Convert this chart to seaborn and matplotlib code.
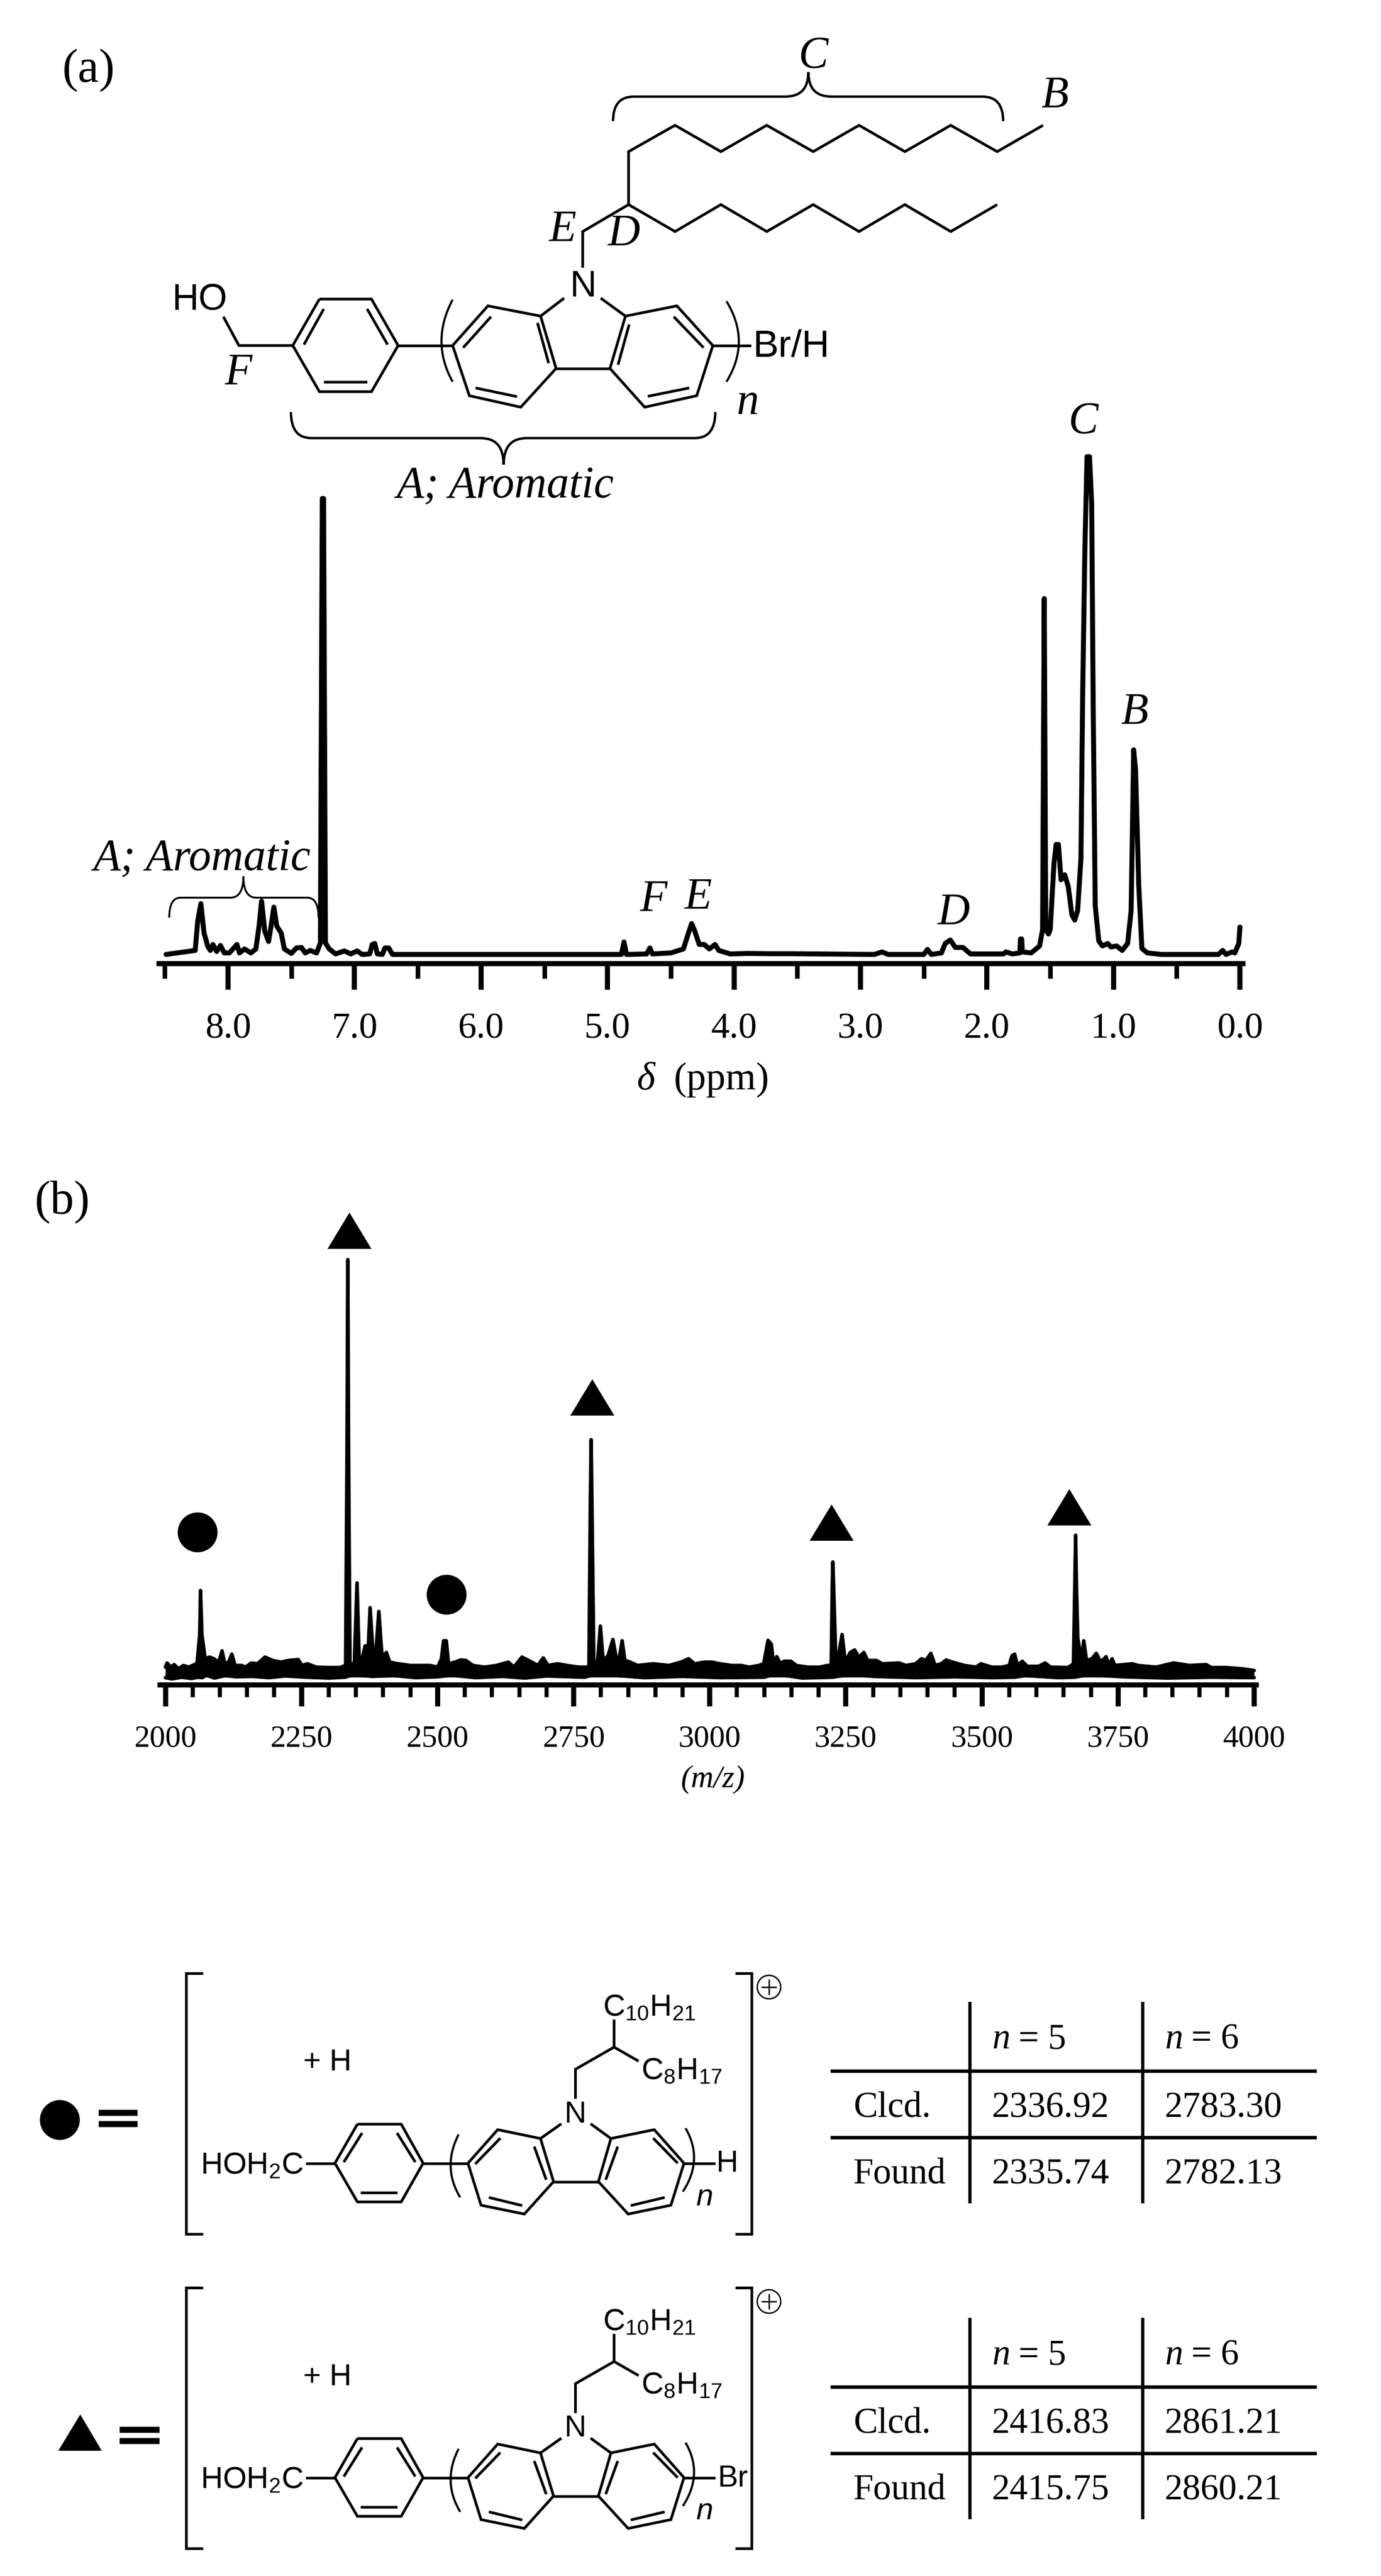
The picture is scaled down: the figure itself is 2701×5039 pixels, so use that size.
import matplotlib
matplotlib.use('Agg')
import matplotlib.pyplot as plt
import seaborn as sns
from matplotlib.path import Path
from matplotlib.patches import PathPatch, Circle
from matplotlib.ticker import MultipleLocator, FormatStrFormatter

sns.set_theme(style='white')
plt.rcParams['font.family'] = ['Liberation Serif', 'DejaVu Serif']
plt.rcParams['mathtext.fontset'] = 'custom'
plt.rcParams['mathtext.rm'] = 'Liberation Sans'
plt.rcParams['mathtext.it'] = 'Liberation Sans:italic'

W, H = 2701, 5039
SERIF = 'Liberation Serif'
SANS = 'Liberation Sans'

# ---- (a) 1H NMR spectrum
nmr_ppm = [8.49, 8.26, 8.24, 8.215, 8.19, 8.16, 8.14, 8.12, 8.09, 8.06, 8.03, 7.99, 7.93, 7.91, 7.87, 7.82,
           7.78, 7.755, 7.735, 7.71, 7.68, 7.66, 7.638, 7.615, 7.58, 7.555, 7.50, 7.46, 7.42, 7.39, 7.35, 7.30,
           7.27, 7.255, 7.245, 7.23, 7.20, 7.15, 7.08, 7.03, 6.98, 6.94, 6.88, 6.86, 6.84, 6.82, 6.78, 6.76,
           6.73, 6.70, 4.89, 4.87, 4.85, 4.69, 4.665, 4.645, 4.50, 4.40, 4.36, 4.335, 4.31, 4.275, 4.235, 4.195,
           4.15, 4.12, 4.03, 3.90, 3.70, 3.55, 2.89, 2.83, 2.78, 2.50, 2.47, 2.44, 2.36, 2.33, 2.29, 2.25,
           2.19, 2.13, 1.87, 1.85, 1.80, 1.74, 1.735, 1.725, 1.72, 1.65, 1.584, 1.56, 1.547, 1.535, 1.513, 1.50,
           1.47, 1.453, 1.435, 1.414, 1.385, 1.357, 1.328, 1.306, 1.283, 1.257, 1.243, 1.226, 1.209, 1.189, 1.172, 1.16,
           1.144, 1.116, 1.087, 1.045, 1.02, 0.974, 0.931, 0.888, 0.86, 0.84, 0.825, 0.80, 0.775, 0.732, 0.619, 0.17,
           0.136, 0.11, 0.062, 0.04, 0.009, 0.0]
nmr_int = [0, 0.8, 6.7, 10.2, 4.3, 1.6, 0.8, 2.0, 0.6, 1.8, 0.3, 0.3, 2.0, 0.3, 1.1, 0.3,
           1.1, 5.7, 10.7, 4.7, 2.6, 5.7, 9.5, 5.7, 4.3, 1.1, 0.2, 1.3, 1.4, 0.3, 0.8, 0.3,
           2.3, 91.6, 91.6, 2.3, 1.1, 0.1, 0.7, 0.1, 0.7, 0, 0.1, 2.0, 2.2, 0.1, 0, 1.3,
           1.3, 0, 0, 2.5, 0, 0.1, 1.3, 0.1, 0.3, 1.1, 4.3, 6.2, 4.7, 2.0, 2.0, 1.1,
           2.0, 0.8, 0.1, 0.2, 0.15, 0.15, 0, 0.5, 0, 0, 1.0, 0, 0.3, 2.2, 2.9, 1.4,
           1.4, 0.1, 0.1, 0.5, 0.1, 0.3, 3.1, 3.1, 0.5, 0.3, 1.7, 5.0, 71.5, 5.0, 4.1, 5.0,
           18.3, 22.1, 22.1, 15.0, 16.0, 13.6, 7.9, 6.9, 8.8, 19.3, 52.5, 81.0, 100, 100, 90.5, 50.0,
           9.8, 2.7, 1.7, 2.2, 1.5, 1.7, 0.8, 2.2, 8.8, 41.1, 37.0, 14.0, 1.2, 0.3, 0, 0,
           0.8, 0, 0.5, 0.3, 2.2, 5.5]

# ---- (b) MALDI-TOF spectrum: top and bottom of the noisy trace
ms_mz = [2000, 2003, 2010, 2016, 2024, 2033, 2043, 2053, 2058, 2063, 2064.5, 2067, 2073, 2081, 2089, 2098, 2104,
         2109, 2116, 2122, 2128, 2140, 2147, 2158, 2169, 2183, 2197, 2212, 2226, 2244, 2251, 2261, 2277,
         2298, 2320, 2331, 2333.5, 2335, 2336.5, 2339, 2347, 2352, 2356, 2362, 2367, 2372, 2376, 2381, 2386,
         2392, 2398, 2406, 2412, 2428, 2450, 2468, 2486, 2500, 2507, 2511, 2516, 2520, 2532, 2542, 2552,
         2565, 2586, 2608, 2630, 2640, 2655, 2673, 2684, 2694, 2703, 2720, 2738, 2759, 2778, 2780.5, 2782,
         2783.5, 2787, 2794, 2799, 2804, 2813, 2822, 2828, 2833, 2839, 2844, 2854, 2867, 2896, 2925, 2947,
         2961, 2972, 2990, 3004, 3019, 3040, 3058, 3072, 3090, 3099, 3107, 3113, 3117, 3123, 3130, 3136,
         3149, 3159, 3180, 3202, 3216, 3223, 3225, 3226, 3227.5, 3231, 3236, 3243, 3249, 3258, 3266, 3274, 3283, 3290,
         3306, 3317, 3348, 3360, 3378, 3389, 3397, 3406, 3414, 3425, 3434, 3446, 3468, 3489, 3498, 3518,
         3536, 3550, 3555, 3560, 3565, 3574, 3583, 3604, 3616, 3626, 3658, 3668, 3670.5, 3672, 3673.5, 3676,
         3682, 3687, 3692, 3702, 3710, 3718, 3728, 3733, 3739, 3744, 3776, 3787, 3820, 3839, 3852, 3881,
         3912, 3921, 3949, 3978, 4000]
ms_top = [2.7, 3.7, 2.7, 3.3, 2.3, 3.1, 2.7, 3.3, 3.5, 10.5, 21.0, 10.5, 4.7, 5.1, 4.7, 3.9, 6.6,
          3.5, 3.9, 5.8, 3.1, 3.1, 2.7, 3.7, 3.5, 5.1, 4.3, 3.9, 4.3, 4.5, 3.1, 3.5, 2.7,
          2.6, 2.6, 3.1, 53.0, 100, 53.0, 3.5, 3.5, 22.8, 4.3, 5.1, 7.8, 5.8, 16.9, 6.6, 5.1,
          16.0, 5.1, 6.2, 3.9, 3.5, 3.1, 3.1, 3.1, 2.7, 4.7, 9.0, 9.0, 3.5, 3.9, 4.4, 4.3,
          3.1, 2.7, 3.1, 3.9, 2.7, 5.1, 3.9, 3.1, 4.9, 3.1, 3.5, 3.1, 2.7, 2.7, 41.6, 57.0,
          41.6, 3.5, 4.3, 12.5, 4.3, 5.4, 9.3, 5.1, 4.3, 9.0, 4.3, 3.9, 3.1, 3.5, 3.1, 3.9,
          4.7, 3.5, 3.9, 3.9, 3.5, 3.1, 3.1, 2.7, 3.1, 3.5, 9.1, 8.2, 3.5, 5.2, 3.5, 4.1,
          4.1, 3.1, 2.7, 2.7, 3.1, 3.1, 22.0, 27.8, 22.0, 6.6, 5.1, 10.5, 3.9, 6.2, 6.8, 5.1, 6.2, 4.3,
          4.3, 3.5, 3.7, 3.1, 3.5, 4.7, 4.3, 6.0, 3.1, 3.5, 4.4, 3.9, 3.1, 2.7, 3.5, 2.7,
          2.7, 3.1, 5.4, 5.8, 3.1, 4.1, 2.9, 2.9, 3.7, 2.7, 2.6, 3.5, 22.0, 34.2, 22.0, 9.7,
          4.3, 9.0, 4.3, 4.7, 6.0, 3.9, 5.2, 3.1, 4.7, 3.1, 3.5, 3.1, 2.7, 3.3, 3.7, 3.1,
          3.3, 2.6, 2.6, 2.3, 1.9]
ms_low_mz = [2000, 2012, 2030, 2048, 2060, 2068, 2075, 2090, 2110, 2130, 2160, 2190, 2220, 2260, 2300, 2330,
             2345, 2380, 2420, 2460, 2500, 2525, 2570, 2620, 2660, 2700, 2770, 2795, 2830, 2880, 2950, 3020,
             3100, 3120, 3170, 3225, 3260, 3300, 3380, 3450, 3520, 3560, 3580, 3640, 3670, 3695, 3760, 3840,
             3920, 4000]
ms_low = [0.2, -0.1, 0.3, 0.0, 0.3, 0.2, 0.8, 0.1, 0.7, 0.4, 0.5, 0.2, 0.6, 0.3, 0.1, 0.3,
          0.9, 0.5, 0.7, 0.2, 0.4, 0.8, 0.2, 0.5, 0.1, 0.6, 0.3, 1.2, 0.7, 0.2, 0.5, 0.2,
          0.3, 1.1, 0.1, 0.3, 1.0, 0.5, 0.2, 0.4, 0.2, 0.3, 0.7, 0.2, 0.3, 0.9, 0.4, 0.1,
          0.3, 0.2]

# marker positions on the m/z axis
tri_mz = [2338, 2784, 3223, 3660]
tri_int = [107.0, 67.1, 37.2, 40.9]
dot_mz = [2059, 2516]
dot_int = [34.9, 20.0]

# ---- mass tables
table_rows = ['Clcd.', 'Found']
table_head = ['5', '6']
dot_table = [['2336.92', '2783.30'], ['2335.74', '2782.13']]
tri_table = [['2416.83', '2861.21'], ['2415.75', '2860.21']]

# ---- line drawings, in the units of the crop they were read from
top_lines = [
    [(767, 578), (767, 407), (842, 322), (916, 407), (990, 322), (1065, 407), (1139, 322), (1213, 407),
     (1287, 322), (1362, 407), (1436, 322)],
    [(693, 782), (693, 665), (767, 578), (842, 665), (916, 578), (990, 665), (1065, 578), (1139, 665),
     (1213, 578), (1287, 665), (1362, 578)],
    [(268, 883), (352, 883), (395, 1033), (352, 1182), (268, 1182), (225, 1033), (268, 883)],
    [(345, 915), (378, 1030)], [(275, 915), (243, 1030)], [(275, 1150), (345, 1150)],
    [(113, 940), (138, 1033), (225, 1033)], [(395, 1033), (483, 1033)],
    [(483, 1033), (540, 905), (625, 938), (650, 1107), (593, 1232), (510, 1195), (483, 1033)],
    [(500, 1040), (545, 940)], [(620, 960), (638, 1090)], [(520, 1170), (587, 1198)],
    [(903, 1033), (845, 905), (762, 938), (737, 1107), (793, 1232), (877, 1195), (903, 1033)],
    [(888, 1040), (840, 940)], [(768, 965), (750, 1095)], [(798, 1197), (865, 1170)],
    [(650, 1107), (737, 1107)], [(625, 938), (663, 880)], [(762, 938), (722, 880)],
    [(903, 1033), (965, 1033)],
]
top_parens = [[(483, 885), (447, 1020), (483, 1150)], [(925, 890), (965, 1020), (925, 1150)]]

unit_lines = [
    [(636, 354), (720, 354), (762, 460), (720, 565), (636, 565), (593, 460), (636, 354)],
    [(712, 378), (747, 457)], [(645, 378), (610, 457)], [(642, 540), (712, 540)],
    [(537, 460), (593, 460)], [(762, 460), (848, 460)],
    [(848, 460), (905, 369), (987, 393), (1012, 510), (956, 598), (873, 574), (848, 460)],
    [(862, 462), (910, 392)], [(975, 415), (998, 505)], [(888, 553), (952, 575)],
    [(1262, 460), (1205, 369), (1122, 393), (1098, 510), (1155, 598), (1237, 574), (1262, 460)],
    [(1250, 460), (1203, 392)], [(1135, 415), (1112, 505)], [(1160, 575), (1225, 553)],
    [(1012, 510), (1098, 510)], [(987, 393), (1027, 353)], [(1122, 393), (1083, 353)],
    [(1054, 285), (1054, 205), (1128, 145), (1128, 70)], [(1128, 145), (1175, 183)],
    [(1262, 460), (1322, 460)],
    [(340, -55), (308, -55), (308, 652), (340, 652)], [(1360, -55), (1392, -55), (1392, 652), (1360, 652)],
]
unit_parens = [[(830, 382), (798, 470), (833, 553)], [(1265, 365), (1300, 450), (1260, 537)]]

fig = plt.figure(figsize=(W / 100, H / 100), dpi=100, facecolor='white')


def axes_px(left, top, right, bottom):
    return fig.add_axes([left / W, 1 - bottom / H, (right - left) / W, (bottom - top) / H], facecolor='none')


# ---- (a) spectrum
ax_nmr = axes_px(311, 870, 2431, 1885)
sns.lineplot(x=nmr_ppm, y=nmr_int, ax=ax_nmr, color='black', linewidth=7, sort=False, estimator=None,
             solid_capstyle='round', solid_joinstyle='round')
ax_nmr.set_xlim(8.546, -0.024)
ax_nmr.set_ylim(-1.85, 102.4)
ax_nmr.xaxis.set_major_locator(MultipleLocator(1))
ax_nmr.xaxis.set_minor_locator(MultipleLocator(0.5))
ax_nmr.xaxis.set_major_formatter(FormatStrFormatter('%.1f'))
ax_nmr.tick_params(axis='x', which='major', bottom=True, length=36.7, width=7.2, pad=32, labelsize=52, color='black', labelcolor='black')
ax_nmr.tick_params(axis='x', which='minor', bottom=True, length=20.6, width=6.5, color='black')
ax_nmr.set_yticks([])

# ---- (b) spectrum
ax_ms = axes_px(313, 2300, 2457, 3296)
ax_ms.fill_between(ms_mz, [0.3] * len(ms_mz), ms_top, color='black', linewidth=0)
sns.lineplot(x=ms_mz, y=ms_top, ax=ax_ms, color='black', linewidth=5, sort=False, estimator=None,
             solid_capstyle='round', solid_joinstyle='round')
sns.lineplot(x=ms_low_mz, y=ms_low, ax=ax_ms, color='black', linewidth=5, sort=False, estimator=None,
             solid_capstyle='round', solid_joinstyle='round')
sns.scatterplot(x=tri_mz, y=tri_int, ax=ax_ms, marker=[(-43, -35.5), (43, -35.5), (0, 35.5)], s=3830,
                color='black', linewidth=0, clip_on=False)
sns.scatterplot(x=dot_mz, y=dot_int, ax=ax_ms, marker='o', s=3150, color='black', linewidth=0, clip_on=False)
ax_ms.set_xlim(1990.1, 4003.8)
ax_ms.set_ylim(-1.55, 120)
ax_ms.xaxis.set_major_locator(MultipleLocator(250))
ax_ms.xaxis.set_minor_locator(MultipleLocator(50))
ax_ms.tick_params(axis='x', which='major', bottom=True, length=30, width=7.2, pad=26, labelsize=44, color='black', labelcolor='black')
ax_ms.tick_params(axis='x', which='minor', bottom=True, length=17, width=5.8, color='black')
ax_ms.set_yticks([])

for ax in (ax_nmr, ax_ms):
    sns.despine(ax=ax, left=True, top=True, right=True)
    ax.spines['bottom'].set_linewidth(7.2)
    ax.spines['bottom'].set_color('black')
    ax.grid(False)

# ---- overlay in pixel coordinates for structures and labels
ov = fig.add_axes([0, 0, 1, 1], facecolor='none')
ov.set_xlim(0, W)
ov.set_ylim(H, 0)
ov.axis('off')


def label(x, y, s, size=63, style='italic', family=SERIF, ha='center', va='center'):
    ov.text(x, y, s, fontsize=size, style=style, family=family, ha=ha, va=va, color='black')


def draw_lines(lines, x0, y0, sx, sy, lw=3.8):
    for pts in lines:
        ov.plot([x0 + p[0] * sx for p in pts], [y0 + p[1] * sy for p in pts], color='black', lw=lw,
                solid_capstyle='butt', solid_joinstyle='miter')


def draw_parens(parens, x0, y0, sx, sy, lw=3.0):
    for pts in parens:
        verts = [(x0 + p[0] * sx, y0 + p[1] * sy) for p in pts]
        ov.add_patch(PathPatch(Path(verts, [Path.MOVETO, Path.CURVE3, Path.CURVE3]), fill=False, lw=lw, ec='black'))


def brace(x0, xm, x1, y_end, y_bar, y_tip, r=40, r2=45, lw=3.4):
    verts = [(x0, y_end), (x0, y_bar), (x0 + r, y_bar), (xm - r2, y_bar), (xm, y_bar), (xm, y_tip),
             (xm, y_bar), (xm + r2, y_bar), (x1 - r, y_bar), (x1, y_bar), (x1, y_end)]
    codes = [Path.MOVETO, Path.CURVE3, Path.CURVE3, Path.LINETO, Path.CURVE3, Path.CURVE3,
             Path.CURVE3, Path.CURVE3, Path.LINETO, Path.CURVE3, Path.CURVE3]
    ov.add_patch(PathPatch(Path(verts, codes), fill=False, lw=lw, ec='black'))


# panel letters
label(173, 138, '(a)', size=67, style='normal')
label(122, 2352, '(b)', size=67, style='normal')

# structure over spectrum (a)
draw_lines(top_lines, 300, 50, 1.2117, 0.6059)
draw_parens(top_parens, 300, 50, 1.2117, 0.6059)
brace(1199, 1581, 1962, 237, 189, 141)
brace(569, 985, 1399, 806, 857, 909)
label(1140, 561, 'N', size=52, style='normal', family=SANS)
label(390, 587, 'HO', size=52, style='normal', family=SANS)
label(1473, 678, 'Br/H', size=54, style='normal', family=SANS, ha='left')
label(1590, 110, 'C')
label(2063, 188, 'B')
label(1100, 450, 'E')
label(1221, 458, 'D')
label(466, 730, 'F')
label(1463, 788, 'n', family=SERIF)
label(988, 952, 'A; Aromatic')

# peak labels on spectrum (a)
label(2118, 825, 'C')
label(2219, 1394, 'B')
label(1866, 1786, 'D')
label(1278, 1760, 'F')
label(1365, 1756, 'E')
label(395, 1681, 'A; Aromatic')
brace(331, 476, 623, 1795, 1756, 1714, r=22, r2=25, lw=2.6)
label(1246, 2112, 'δ', size=55, ha='left')
label(1318, 2112, '(ppm)', size=55, style='normal', ha='left')
label(1395, 3481, '(m/z)', size=44)

# bottom structures, same drawing twice
for dy, end_text, end_x in ((0, 'H', 1422), (615, 'Br', 1433)):
    draw_lines(unit_lines, 50, 3900 + dy, 1.0204, 0.7207)
    draw_parens(unit_parens, 50, 3900 + dy, 1.0204, 0.7207)
    base = 3900 + dy
    label(1125, base + 236, 'N', size=43, style='normal', family=SANS)
    label(640, base + 135, '+ H', size=43, style='normal', family=SANS)
    label(392, base + 353, r'$\mathregular{HOH_2C}$', size=43, style='normal', family=SANS, ha='left', va='baseline')
    label(1179, base + 43, r'$\mathregular{C_{10}H_{21}}$', size=43, style='normal', family=SANS, ha='left', va='baseline')
    label(1254, base + 167, r'$\mathregular{C_8H_{17}}$', size=43, style='normal', family=SANS, ha='left', va='baseline')
    label(end_x, base + 333, end_text, size=43, style='normal', family=SANS, va='center')
    label(1379, base + 398, 'n', size=43, family=SANS)
    # charge sign
    cx, cy = 1504, base - 13
    ov.add_patch(Circle((cx, cy), 23, fill=False, lw=2, ec='black'))
    ov.plot([cx - 14, cx + 14], [cy, cy], color='black', lw=2)
    ov.plot([cx, cx], [cy - 14, cy + 14], color='black', lw=2)

# legend symbols with the big equals signs
ov.add_patch(Circle((117, 4147), 39, color='black', lw=0))
ov.fill([114, 199, 157], [4794, 4794, 4723], color='black', lw=0)
for x0, x1, ys in ((193, 269, (4133, 4155)), (234, 312, (4753, 4775))):
    for y in ys:
        ov.plot([x0, x1], [y, y], color='black', lw=8.5, solid_capstyle='butt')

# mass tables
for dy, rows in ((0, dot_table), (618, tri_table)):
    for x in (1897, 2235):
        ov.plot([x, x], [3916 + dy, 4310 + dy], color='black', lw=4.6, solid_capstyle='butt')
    for y in (4051, 4181):
        ov.plot([1624, 2575], [y + dy, y + dy], color='black', lw=4.8, solid_capstyle='butt')
    for x, n in zip((1940, 2278), table_head):
        label(x, 4007 + dy, 'n', size=51, ha='left', va='baseline')
        label(x + 52, 4007 + dy, '= ' + n, size=51, style='normal', ha='left', va='baseline')
    for y, name, row in zip((4141, 4271), table_rows, rows):
        label(1669, y + dy, name, size=51, style='normal', ha='left', va='baseline')
        for x, val in zip((1940, 2278), row):
            label(x, y + dy, val, size=51, style='normal', ha='left', va='baseline')

fig.savefig('out.png', dpi=100)
